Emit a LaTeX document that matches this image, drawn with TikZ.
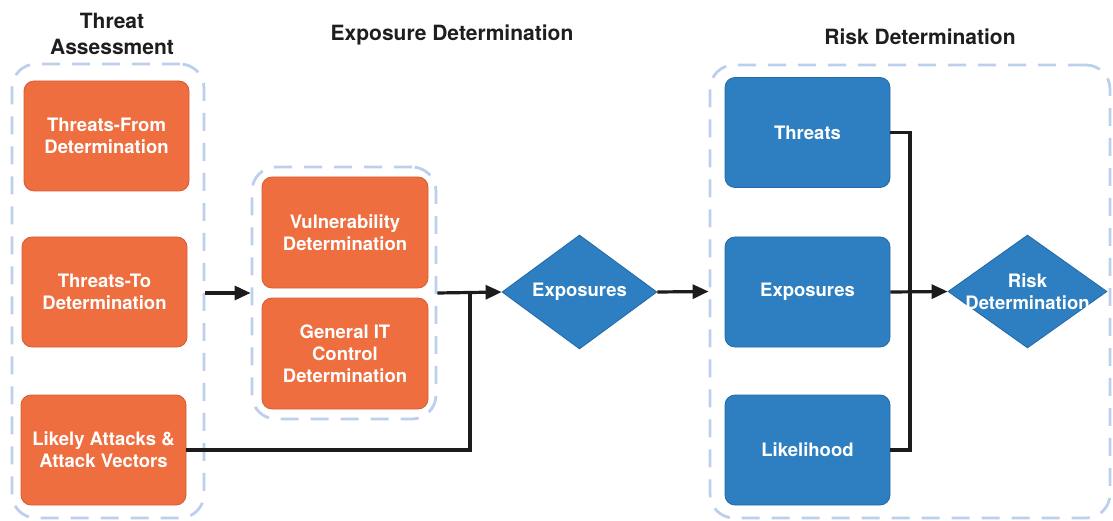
\documentclass[tikz,border=0pt]{standalone}
\usepackage{fontspec}
\setmainfont{TeX Gyre Heros}
\usetikzlibrary{shapes.geometric,arrows.meta}
\definecolor{boxorange}{RGB}{238,110,64}
\definecolor{boxorangeedge}{RGB}{215,92,50}
\definecolor{boxblue}{RGB}{45,127,193}
\definecolor{boxblueedge}{RGB}{35,105,165}
\definecolor{groupline}{RGB}{188,208,238}
\definecolor{linkcol}{RGB}{28,28,28}
\definecolor{titlecol}{RGB}{30,30,30}
\tikzset{
  group/.style={draw=groupline, line width=2.8pt, dash pattern=on 18pt off 12pt,
    rounded corners=24pt, inner sep=0pt},
  card/.style={rounded corners=10pt, inner sep=0pt, line width=0.8pt,
    minimum width=165pt, minimum height=110pt, align=center, text=white,
    font=\bfseries\fontsize{18.5}{22}\selectfont},
  orangecard/.style={card, fill=boxorange, draw=boxorangeedge},
  bluecard/.style={card, fill=boxblue, draw=boxblueedge},
  decision/.style={diamond, fill=boxblue, draw=boxblueedge, line width=0.8pt,
    inner sep=0pt},
  decisiontext/.style={text=white, align=center, font=\bfseries\fontsize{18.5}{22}\selectfont},
  heading/.style={text=titlecol, align=center, font=\bfseries\fontsize{21}{26}\selectfont},
  link/.style={draw=linkcol, line width=3.2pt},
  arrowlink/.style={link, -{Triangle[length=16pt,width=14pt]}}
}
\begin{document}
\begin{tikzpicture}[x=1pt,y=-1pt]
\useasboundingbox (0,0) rectangle (1113,521);

% headings
\node[heading] (h1) at (112,34) {Threat\\Assessment};
\node[heading] (h2) at (452,35) {Exposure Determination};
\node[heading] (h3) at (920,37) {Risk Determination};

% dashed groups
\node[group, minimum width=192pt, minimum height=454pt] (leftc) at (108,291) {};
\node[group, minimum width=184pt, minimum height=252pt] (midc) at (344,293) {};
\node[group, minimum width=400pt, minimum height=453pt] (rightc) at (910,291.5) {};

% threat assessment cards
\node[orangecard] (tf) at (106.5,136) {Threats-From\\Determination};
\node[orangecard] (tt) at (104.5,292) {Threats-To\\Determination};
\node[orangecard] (la) at (103.5,450) {Likely Attacks \&\\Attack Vectors};

% exposure determination cards
\node[orangecard, minimum width=166pt, minimum height=111pt] (vd) at (345,232.5) {Vulnerability\\Determination};
\node[orangecard, minimum width=166pt, minimum height=111pt] (gd) at (345,353.5) {General IT\\Control\\Determination};

% exposures decision
\node[decision, minimum width=155pt, minimum height=114pt,
  label={[decisiontext]center:Exposures}] (expo) at (579.5,292) {};

% risk determination cards
\node[bluecard] (th) at (807.5,132.5) {Threats};
\node[bluecard] (ex) at (807.5,292) {Exposures};
\node[bluecard] (lk) at (807.5,450) {Likelihood};

% risk decision
\node[decision, minimum width=159pt, minimum height=113pt,
  label={[decisiontext]center:Risk\\Determination}] (risk) at (1027.5,291.5) {};

% junction points
\coordinate (ej) at (470,292);
\coordinate (rj) at (910,292);

% connectors
\draw[arrowlink] (leftc.east |- midc.west) -- (midc.west);
\draw[link] (la.east) -| (ej);
\draw[arrowlink] (midc.east) -- (expo.west);
\draw[arrowlink] (expo.east) -- (rightc.west);
\draw[link] (th.east) -| (rj);
\draw[link] (lk.east) -| (rj);
\draw[arrowlink] (ex.east) -- (risk.west);
\end{tikzpicture}
\end{document}
